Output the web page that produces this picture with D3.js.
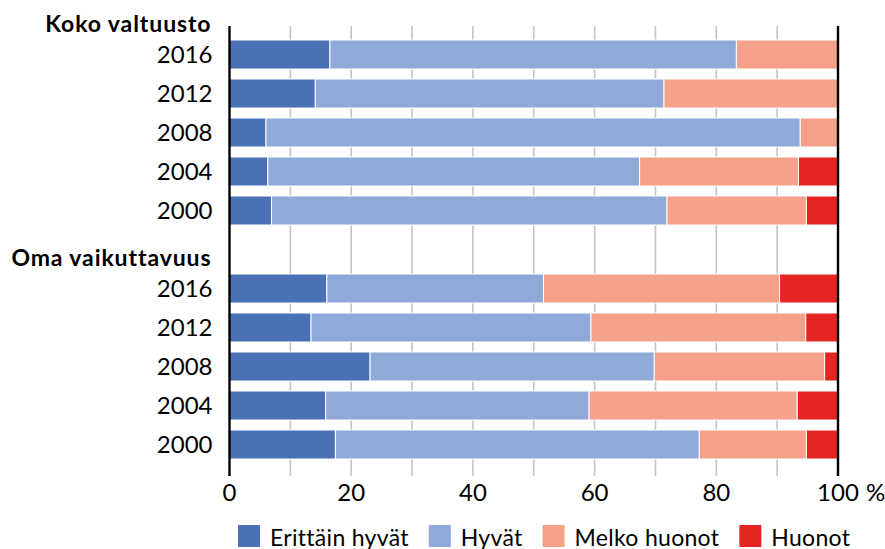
<!DOCTYPE html>
<html>
<head>
<meta charset="utf-8">
<script src="https://cdn.jsdelivr.net/npm/d3@7"></script>
<style>
  html, body { margin: 0; padding: 0; background: #fff; }
  svg { display: block; font-family: Lato, "Open Sans", sans-serif; }
</style>
</head>
<body>
<svg id="chart" width="885" height="549"></svg>
<script>
// ---- data ----
const groups = ["Koko valtuusto", "Oma vaikuttavuus"];
const years = ["2016", "2012", "2008", "2004", "2000"];
const seriesNames = ["Erittäin hyvät", "Hyvät", "Melko huonot", "Huonot"];
const seriesColors = ["#4a71b6", "#8faad9", "#f4a08a", "#e42522"];
const xTicks = [0, 20, 40, 60, 80, 100];
const xUnit = "%";

const kokoErittain = [16.5, 14.1, 6.0, 6.3, 6.9];
const kokoHyvat    = [66.8, 57.3, 87.8, 61.1, 65.0];
const kokoMelko    = [16.7, 28.6, 6.2, 26.1, 22.9];
const kokoHuonot   = [0, 0, 0, 6.5, 5.2];

const omaErittain = [16.0, 13.4, 23.1, 15.8, 17.4];
const omaHyvat    = [35.6, 46.0, 46.7, 43.3, 59.8];
const omaMelko    = [38.8, 35.3, 28.0, 34.2, 17.6];
const omaHuonot   = [9.6, 5.3, 2.2, 6.7, 5.2];

// ---- build rows ----
const groupSeries = [
  [kokoErittain, kokoHyvat, kokoMelko, kokoHuonot],
  [omaErittain, omaHyvat, omaMelko, omaHuonot]
];
const rows = [];
const domain = [];
groups.forEach((g, gi) => {
  if (gi > 0) domain.push("gap" + gi);
  years.forEach((yr, yi) => {
    const key = g + "|" + yr;
    domain.push(key);
    const r = { key, group: g, year: yr };
    seriesNames.forEach((s, si) => { r[s] = groupSeries[gi][si][yi]; });
    rows.push(r);
  });
});

const svg = d3.select("#chart");
const x = d3.scaleLinear().domain([0, 100]).range([229.5, 838]);
const y = d3.scaleBand().domain(domain).range([35, 464])
  .paddingInner(10 / 39).paddingOuter(5 / 39);
const plotTop = 26, plotBottom = 476;
const color = d3.scaleOrdinal().domain(seriesNames).range(seriesColors);

// gridlines
svg.append("g").selectAll("line")
  .data(d3.range(10, 100, 10))
  .join("line")
  .attr("x1", d => x(d)).attr("x2", d => x(d))
  .attr("y1", plotTop).attr("y2", plotBottom)
  .attr("stroke", "#c4c4c4").attr("stroke-width", 1.6);

// stacked bars
const stack = d3.stack().keys(seriesNames);
const stacked = stack(rows);
svg.append("g").selectAll("g")
  .data(stacked)
  .join("g")
  .attr("fill", d => color(d.key))
  .selectAll("rect")
  .data(d => d.filter(p => p[1] - p[0] > 0))
  .join("rect")
  .attr("x", d => x(d[0]))
  .attr("width", d => x(d[1]) - x(d[0]))
  .attr("y", d => y(d.data.key))
  .attr("height", y.bandwidth())
  .attr("stroke", "#fff").attr("stroke-width", 1);

// black side lines at 0 and 100
svg.append("g").selectAll("line")
  .data([0, 100])
  .join("line")
  .attr("x1", d => x(d)).attr("x2", d => x(d))
  .attr("y1", plotTop).attr("y2", plotBottom)
  .attr("stroke", "#000").attr("stroke-width", 2.4);

// x tick labels
const xAxis = svg.append("g");
xAxis.selectAll("text")
  .data(xTicks)
  .join("text")
  .attr("x", d => x(d)).attr("y", 501)
  .attr("text-anchor", "middle")
  .attr("font-size", 24).attr("fill", "#000")
  .text(d => d);
xAxis.append("text")
  .attr("x", x(100) + 28).attr("y", 501)
  .attr("font-size", 24).attr("fill", "#000")
  .text(xUnit);

// year labels
svg.append("g").selectAll("text")
  .data(rows)
  .join("text")
  .attr("x", x(0) - 17)
  .attr("y", d => y(d.key) + y.bandwidth() / 2 + 8)
  .attr("text-anchor", "end")
  .attr("font-size", 24).attr("fill", "#000")
  .text(d => d.year);

// group headers
svg.append("g").selectAll("text")
  .data(groups)
  .join("text")
  .attr("x", x(0) - 18)
  .attr("y", g => y(g + "|" + years[0]) - 8.5)
  .attr("text-anchor", "end")
  .attr("font-size", 23).attr("font-weight", "bold")
  .attr("letter-spacing", 0.9).attr("fill", "#000")
  .text(g => g);

// legend
const legend = svg.append("g");
let lx = 238;
seriesNames.forEach((s, i) => {
  legend.append("rect")
    .attr("x", lx).attr("y", 525).attr("width", 22).attr("height", 22)
    .attr("fill", color(s));
  const t = legend.append("text")
    .attr("x", lx + 32).attr("y", 545.5)
    .attr("font-size", 23).attr("letter-spacing", 0.3).attr("fill", "#000")
    .text(s);
  lx += 32 + t.node().getComputedTextLength() + 20;
});
</script>
</body>
</html>
